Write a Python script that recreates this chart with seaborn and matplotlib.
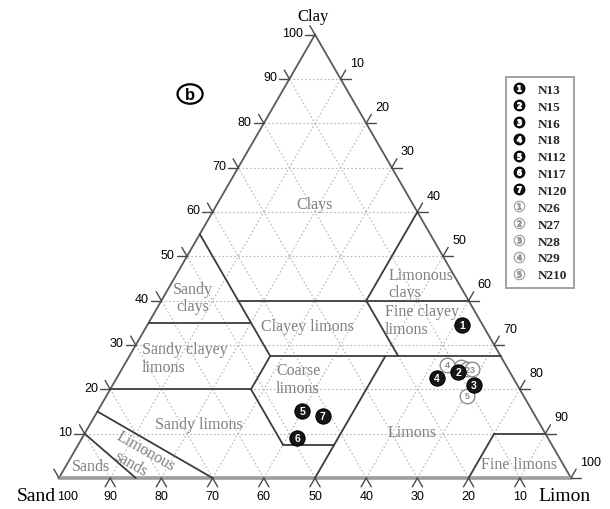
import numpy as np
import matplotlib
matplotlib.use("Agg")
import matplotlib.pyplot as plt
import seaborn as sns
import pandas as pd
from matplotlib.lines import Line2D
from matplotlib.patches import Ellipse
from matplotlib.legend_handler import HandlerTuple

# ---- sample composition (%) ----
samples = ["N13", "N15", "N16", "N18", "N112", "N117", "N120",
           "N26", "N27", "N28", "N29", "N210"]
marker_ids = ["1", "2", "3", "4", "5", "6", "7", "1", "2", "3", "4", "5"]
groups = ["N1"] * 7 + ["N2"] * 5
clay = [34.5, 24.0, 21.0, 22.5, 15.0, 9.0, 14.0, 25.0, 24.5, 24.5, 25.5, 18.5]
limon = [61.5, 66.0, 70.5, 62.5, 40.0, 42.0, 44.5, 66.0, 67.5, 68.5, 63.0, 70.5]
sand = [4.0, 10.0, 8.5, 15.0, 45.0, 49.0, 41.5, 9.0, 8.0, 7.0, 11.5, 11.0]

tick_values = [10, 20, 30, 40, 50, 60, 70, 80, 90, 100]

# texture class boundaries as (clay, limon) end points
boundaries = [
    ((55, 0), (27.5, 27.5)),
    ((40, 15), (40, 60)),
    ((35, 0), (35, 20)),
    ((60, 40), (40, 40)),
    ((40, 40), (27.5, 52.5)),
    ((27.5, 27.5), (27.5, 72.5)),
    ((27.5, 27.5), (20, 27.5)),
    ((20, 0), (20, 27.5)),
    ((20, 27.5), (7.5, 40)),
    ((7.5, 40), (7.5, 50)),
    ((27.5, 50), (0, 50)),
    ((15, 0), (0, 30)),
    ((10, 0), (0, 15)),
    ((0, 80), (10, 80)),
    ((10, 80), (10, 90)),
]

class_names = ["Clays", "Sandy\nclays", "Limonous\nclays", "Fine clayey\nlimons",
               "Clayey limons", "Sandy clayey\nlimons", "Coarse\nlimons",
               "Sandy limons", "Limons", "Fine limons", "Sands"]

S3 = np.sqrt(3) / 2


def tern(c, l):
    c = np.asarray(c, dtype=float)
    l = np.asarray(l, dtype=float)
    return l + c / 2, c * S3


sns.set_theme(style="white")
plt.rcParams["font.family"] = ["Liberation Serif", "DejaVu Serif"]

fig = plt.figure(figsize=(6.1, 5.1), dpi=100)
ax = fig.add_axes([0, 0, 1, 1])
ax.set_xlim(-59 / 5.12, (610 - 59) / 5.12)
ax.set_ylim((479 - 510) / 5.12, 479 / 5.12)
ax.axis("off")

# dotted grid every 10 %
grid_kw = dict(color="#b4b4b4", lw=0.8, ls=(0, (1.5, 2.0)), zorder=1)
for v in range(10, 100, 10):
    ax.plot(*tern([v, v], [0, 100 - v]), **grid_kw)
    ax.plot(*tern([0, 100 - v], [v, v]), **grid_kw)
    ax.plot(*tern([0, 100 - v], [100 - v, 0]), **grid_kw)

# triangle frame
ax.plot(*tern([0, 100], [0, 0]), color="#5a5a5a", lw=1.3, zorder=3)
ax.plot(*tern([100, 0], [0, 100]), color="#5a5a5a", lw=1.3, zorder=3)
ax.plot(*tern([0, 0], [0, 100]), color="#9c9c9c", lw=2.6, zorder=3)

# ticks and tick labels
L = 2.0
tk = dict(color="#4a4a4a", lw=1.0, zorder=3)
tick_font = dict(family=["Liberation Sans", "DejaVu Sans"], fontsize=9, color="black")
for v in tick_values:
    # clay, left edge
    px, py = tern(v, 0)
    ax.plot([px, px - L], [py, py], **tk)
    ax.plot([px, px - 0.5 * L], [py, py + S3 * L], **tk)
    ax.text(px - 2.4, py + 0.3, str(v), ha="right", va="center", **tick_font)
    # limon, right edge
    px, py = tern(100 - v, v)
    ax.plot([px, px + L], [py, py], **tk)
    ax.plot([px, px + 0.5 * L], [py, py + S3 * L], **tk)
    ax.text(px + 1.8, py + 3.2, str(v), ha="left", va="center", **tick_font)
    # sand, base
    px, py = tern(0, 100 - v)
    if v < 100:
        ax.plot([px, px - 0.5 * L], [py, py - S3 * L], **tk)
        ax.plot([px, px + 0.5 * L], [py, py - S3 * L], **tk)
        ax.text(px, py - 3.5, str(v), ha="center", va="center", **tick_font)
    else:
        ax.text(px + 1.6, py - 3.5, str(v), ha="center", va="center", **tick_font)
# sand 100 tick at the left vertex
ax.plot([0, -0.5 * L], [0, S3 * L], **tk)

# class boundaries
for (c1, l1), (c2, l2) in boundaries:
    ax.plot(*tern([c1, c2], [l1, l2]), color="#3c3c3c", lw=1.3, zorder=4)

# class names
lab = dict(color="#808080", fontsize=11.5, zorder=5)
label_pos = [(50.0, 53.5, "center"), (26.2, 35.2, "center"), (64.3, 38.0, "left"),
             (63.6, 30.9, "left"), (48.6, 29.7, "center"), (16.2, 23.4, "left"),
             (42.4, 19.3, "left"), (27.3, 10.5, "center"), (68.9, 9.0, "center"),
             (89.8, 2.7, "center"), (6.3, 2.3, "center")]
for name, (x, y, ha) in zip(class_names, label_pos):
    ax.text(x, y, name, ha=ha, va="center", linespacing=1.12, **lab)
ax.text(17.0, 5.3, "Limonous", rotation=-30, ha="center", va="center", **lab)
ax.text(14.1, 2.9, "sands", rotation=-30, ha="center", va="center", **lab)

# apex names
ax.text(49.6, 90.2, "Clay", ha="center", va="center", fontsize=12, color="black")
ax.text(-0.6, -3.5, "Sand", ha="right", va="center", fontsize=14, color="black")
ax.text(93.6, -3.5, "Limon", ha="left", va="center", fontsize=14, color="black")

# panel mark
ax.add_patch(Ellipse((25.6, 75.0), 4.9, 3.8, fill=False, ec="black", lw=1.6, zorder=5))
ax.text(25.6, 75.0, "b", ha="center", va="center", fontsize=12, fontweight="bold",
        family=["Liberation Sans", "DejaVu Sans"], color="black", zorder=6)

# samples
px, py = tern(clay, limon)
df = pd.DataFrame({"sample": samples, "id": marker_ids, "group": groups,
                   "x": px, "y": py})
dark = df[df.group == "N1"]
light = df[df.group == "N2"]
sns.scatterplot(data=light, x="x", y="y", s=110, color="white", edgecolor="#8c8c8c",
                linewidth=1.0, ax=ax, legend=False, zorder=7)
sns.scatterplot(data=dark, x="x", y="y", s=120, color="#161616", edgecolor="black",
                linewidth=0.8, ax=ax, legend=False, zorder=8)
for _, r in df.iterrows():
    dark_pt = r.group == "N1"
    ax.text(r.x, r.y, r.id, ha="center", va="center",
            fontsize=7.5 if dark_pt else 6.5, fontweight="bold",
            family=["Liberation Sans", "DejaVu Sans"],
            color="white" if dark_pt else "#8c8c8c",
            zorder=9 if dark_pt else 7.5)

# legend with numbered markers
handles = []
for sid, g in zip(marker_ids, groups):
    if g == "N1":
        circ = Line2D([], [], ls="none", marker="o", ms=7.5, mfc="#161616", mec="black")
        num = Line2D([], [], ls="none", marker=f"${sid}$", ms=4.0, mfc="white", mec="white")
    else:
        circ = Line2D([], [], ls="none", marker="o", ms=7.5, mfc="white", mec="#9a9a9a", mew=0.8)
        num = Line2D([], [], ls="none", marker=f"${sid}$", ms=4.0, mfc="#9a9a9a", mec="#9a9a9a")
    handles.append((circ, num))
leg = ax.legend(handles, samples, handler_map={tuple: HandlerTuple(ndivide=1)},
                loc="upper left", bbox_to_anchor=(506 / 610, 1 - 78 / 510),
                bbox_transform=fig.transFigure, borderaxespad=0, frameon=True,
                fancybox=False, edgecolor="#8a8a8a", handlelength=1.0,
                handletextpad=0.9, labelspacing=0.35, borderpad=0.5,
                prop=dict(family=["Liberation Serif", "DejaVu Serif"], size=9.5, weight="bold"))
leg.get_frame().set_linewidth(1.4)

fig.savefig("out.png", dpi=100)
